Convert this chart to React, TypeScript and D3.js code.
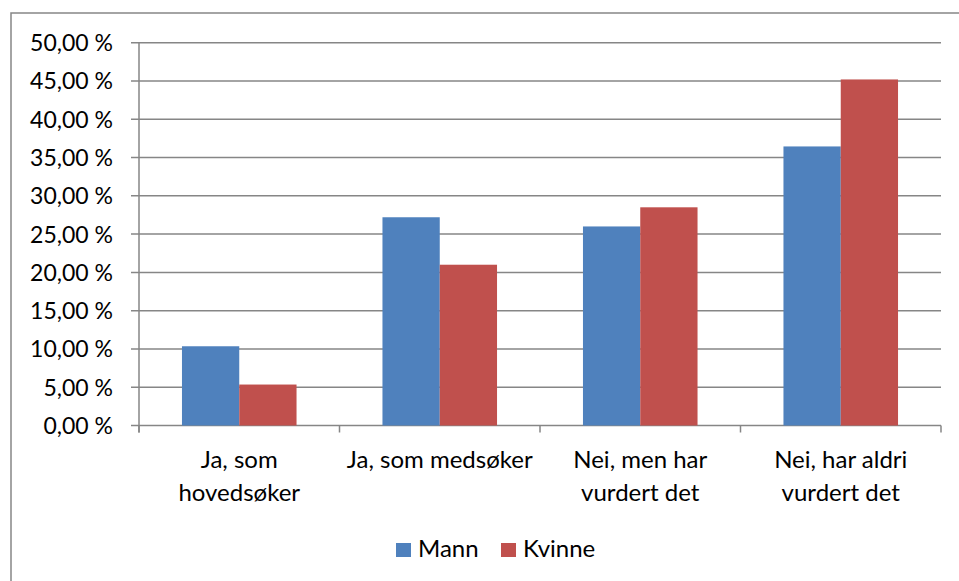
import * as d3 from 'd3'

const categories = [['Ja, som', 'hovedsøker'], ['Ja, som medsøker'], ['Nei, men har', 'vurdert det'], ['Nei, har aldri', 'vurdert det']]
const seriesNames = ['Mann', 'Kvinne']
const mann = [10.35, 27.2, 26.0, 36.45]
const kvinne = [5.35, 21.0, 28.5, 45.2]
const yTicks = [0, 5, 10, 15, 20, 25, 30, 35, 40, 45, 50]
const colors = ['#4F81BD', '#C0504D']

const W = 959
const H = 581
const left = 139
const right = 941
const top = 42.7
const bottom = 425.5
const font = 'Lato, "Open Sans", sans-serif'

export default function App() {
  const x = d3.scaleBand<number>().domain(d3.range(categories.length)).range([left, right]).paddingInner(0).paddingOuter(0)
  const y = d3.scaleLinear().domain([0, 50]).range([bottom, top])
  const bw = x.bandwidth()
  const barW = bw / 3.5
  const series = [mann, kvinne]
  const fmt = (v: number) => v.toFixed(2).replace('.', ',') + ' %'
  const legendX = [396, 501]

  return (
    <svg width={W} height={H} style={{ position: 'absolute', left: 0, top: 0, background: '#fff' }} fontFamily={font}>
      <rect x={11} y={13} width={W + 10} height={H + 10} fill="none" stroke="#868686" strokeWidth={1.5} />
      {yTicks.map(t => (
        <g key={t}>
          <line x1={left - 8} x2={right} y1={y(t)} y2={y(t)} stroke="#868686" strokeWidth={1.5} />
          <text x={113} y={y(t) + 8.5} textAnchor="end" fontSize={23} fill="#000">{fmt(t)}</text>
        </g>
      ))}
      <line x1={left} x2={left} y1={top} y2={bottom + 7} stroke="#868686" strokeWidth={1.5} />
      {d3.range(categories.length + 1).map(i => {
        const xx = left + i * bw
        return <line key={i} x1={xx} x2={xx} y1={bottom} y2={bottom + 7} stroke="#868686" strokeWidth={1.5} />
      })}
      {series.map((vals, s) => vals.map((v, i) => (
        <rect key={`${s}-${i}`} x={(x(i) ?? 0) + bw / 2 - barW + s * barW} y={y(v)} width={barW} height={bottom - y(v)} fill={colors[s]} />
      )))}
      {categories.map((lines, i) => (
        <text key={i} x={(x(i) ?? 0) + bw / 2} y={468} textAnchor="middle" fontSize={24} fill="#000">
          {lines.map((l, j) => <tspan key={j} x={(x(i) ?? 0) + bw / 2} dy={j === 0 ? 0 : 33}>{l}</tspan>)}
        </text>
      ))}
      <g>
        {seriesNames.map((n, s) => (
          <g key={n}>
            <rect x={legendX[s]} y={543} width={15} height={14} fill={colors[s]} />
            <text x={legendX[s] + 22} y={557} fontSize={24} fill="#000">{n}</text>
          </g>
        ))}
      </g>
    </svg>
  )
}
